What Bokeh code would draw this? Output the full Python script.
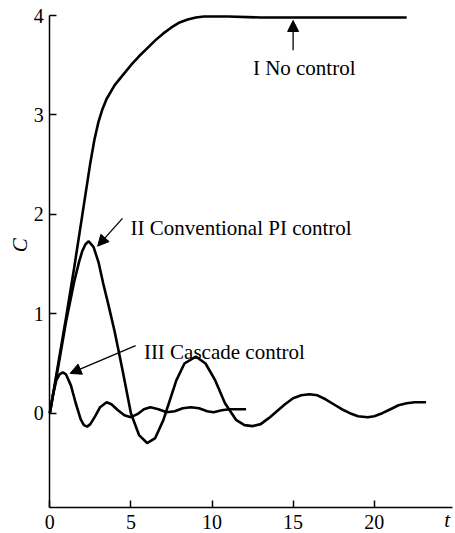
from bokeh.plotting import figure
from bokeh.models import Range1d, FixedTicker, Label, Arrow, NormalHead
from bokeh.embed import file_html
from bokeh.resources import INLINE
import math

# ---- data ----
t_no_control = [0, 0.5, 1.0, 1.5, 2.0, 2.5, 2.75, 3.0, 3.25, 3.5, 4.0, 4.5, 5.0, 5.5, 6.0,
                6.5, 7.0, 7.5, 8.0, 8.5, 9.0, 9.5, 10.0, 11.0, 13.0, 16.0, 19.0, 22.0]
c_no_control = [0, 0.48, 0.96, 1.46, 1.99, 2.52, 2.75, 2.93, 3.06, 3.16, 3.30, 3.40, 3.50, 3.59, 3.67,
                3.75, 3.82, 3.88, 3.93, 3.96, 3.98, 3.99, 3.99, 3.99, 3.98, 3.98, 3.98, 3.98]

t_pi = [0, 0.5, 1.0, 1.5, 1.8, 2.0, 2.2, 2.4, 2.7, 3.0, 3.3, 3.6, 4.0, 4.5, 5.0, 5.5, 6.0, 6.5,
        7.0, 7.4, 7.8, 8.3, 9.0, 9.6, 10.2, 10.8, 11.5, 12.0, 12.5, 13.0, 13.5, 14.0, 14.5,
        15.0, 15.5, 16.0, 16.5, 17.0, 17.5, 18.0, 18.5, 19.0, 19.6, 20.0, 20.5, 21.0, 21.5,
        22.0, 22.5, 23.2]
c_pi = [0, 0.45, 0.92, 1.32, 1.52, 1.63, 1.70, 1.73, 1.67, 1.52, 1.30, 1.10, 0.82, 0.42, 0.0,
        -0.22, -0.30, -0.25, -0.07, 0.13, 0.33, 0.50, 0.57, 0.50, 0.33, 0.10, -0.07, -0.12,
        -0.13, -0.11, -0.05, 0.02, 0.09, 0.15, 0.18, 0.19, 0.18, 0.14, 0.09, 0.04, 0.0, -0.03,
        -0.04, -0.03, 0.0, 0.04, 0.08, 0.10, 0.11, 0.11]

t_cascade = [0, 0.2, 0.4, 0.6, 0.8, 1.0, 1.3, 1.6, 1.9, 2.1, 2.3, 2.5, 2.8, 3.1, 3.5, 3.8, 4.2,
             4.6, 5.0, 5.4, 5.8, 6.2, 6.7, 7.2, 7.7, 8.2, 8.7, 9.2, 9.7, 10.1, 10.6, 11.1, 12.1]
c_cascade = [0, 0.19, 0.33, 0.39, 0.41, 0.39, 0.28, 0.10, -0.06, -0.12, -0.135, -0.11, -0.03,
             0.06, 0.11, 0.09, 0.03, -0.02, -0.04, -0.01, 0.04, 0.06, 0.04, 0.01, 0.02, 0.05,
             0.06, 0.05, 0.02, 0.01, 0.03, 0.04, 0.04]

x_ticks = [0, 5, 10, 15, 20]
y_ticks = [0, 1, 2, 3, 4]

labels = ["I No control", "II Conventional PI control", "III Cascade control"]

FONT = "Liberation Serif"

# axis extents (data units)
X_AXIS_END = 24.83
Y_AXIS_MIN, Y_AXIS_MAX = -0.95, 4.0

p = figure(width=454, height=532, output_backend="svg", toolbar_location=None,
           x_range=Range1d(-3.04, 24.95), y_range=Range1d(-1.20, 4.151),
           min_border=0, min_border_left=0, min_border_right=0,
           min_border_top=0, min_border_bottom=0)
p.outline_line_color = None
p.grid.visible = False
p.background_fill_color = "white"
p.border_fill_color = "white"

p.xaxis.fixed_location = Y_AXIS_MIN
p.yaxis.fixed_location = 0
p.xaxis.bounds = (0, X_AXIS_END)
p.yaxis.bounds = (Y_AXIS_MIN, Y_AXIS_MAX)

p.axis.major_tick_in = 7
p.axis.major_tick_out = 0
p.axis.minor_tick_line_color = None
p.axis.axis_line_width = 1.5
p.axis.major_tick_line_width = 1.5
p.axis.axis_line_color = "black"
p.axis.major_tick_line_color = "black"
p.axis.major_label_text_font = FONT
p.axis.major_label_text_font_size = "20px"
p.axis.major_label_text_color = "black"

p.xaxis.ticker = FixedTicker(ticks=x_ticks)
p.yaxis.ticker = FixedTicker(ticks=y_ticks)
p.xaxis.major_label_standoff = 7
p.yaxis.major_label_standoff = 6

lw = 2.6
p.line(t_no_control, c_no_control, line_color="black", line_width=lw)
p.line(t_pi, c_pi, line_color="black", line_width=lw)
p.line(t_cascade, c_cascade, line_color="black", line_width=lw)

# annotations
ann = [
    (labels[0], 12.52, 3.47),
    (labels[1], 4.98, 1.86),
    (labels[2], 5.80, 0.62),
]
for txt, x, y in ann:
    p.add_layout(Label(x=x, y=y, text=txt, text_font=FONT, text_font_size="21px",
                       text_color="black", text_baseline="alphabetic", text_align="left"))

arrows = [
    (15.0, 3.65, 15.0, 3.95),
    (4.48, 1.96, 2.95, 1.68),
    (5.29, 0.68, 1.25, 0.40),
]
for xs, ys, xe, ye in arrows:
    p.add_layout(Arrow(end=NormalHead(size=11, fill_color="black", line_color="black", line_width=1),
                       x_start=xs, y_start=ys, x_end=xe, y_end=ye,
                       line_color="black", line_width=1.3))

# axis titles
p.add_layout(Label(x=-1.81, y=1.69, text="C", text_font=FONT, text_font_size="21px",
                   text_font_style="italic", text_color="black", angle=math.pi / 2,
                   text_align="center", text_baseline="middle"))
p.add_layout(Label(x=24.5, y=-1.07, text="t", text_font=FONT, text_font_size="21px",
                   text_font_style="italic", text_color="black",
                   text_align="center", text_baseline="middle"))

open("out.html", "w").write(file_html(p, INLINE))
